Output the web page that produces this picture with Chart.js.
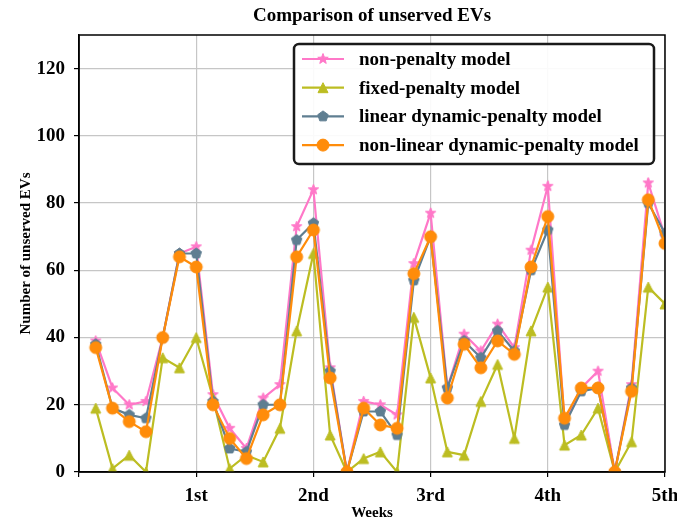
<!DOCTYPE html>
<html>
<head>
<meta charset="utf-8">
<title>Comparison of unserved EVs</title>
<script src="https://cdn.jsdelivr.net/npm/chart.js@4.4.1/dist/chart.umd.min.js"></script>
<style>
  html, body { margin: 0; padding: 0; background: #fff; }
  #wrap { width: 677px; height: 521px; position: relative; }
</style>
</head>
<body>
<div id="wrap"><canvas id="evChart"></canvas></div>
<script>
// Days of the horizon (7 per week), x position = day / 7
const days = [1, 2, 3, 4, 5, 6, 7, 8, 9, 10, 11, 12, 13, 14, 15, 16, 17, 18,
              19, 20, 21, 22, 23, 24, 25, 26, 27, 28, 29, 30, 31, 32, 33, 34, 35];
const weekLabels = ['', '1st', '2nd', '3rd', '4th', '5th'];
const weekTicks = [0, 1, 2, 3, 4, 5];
const yTicks = [0, 20, 40, 60, 80, 100, 120];

const nonPenalty = [39, 25, 20, 21, 40, 65, 67, 23, 13, 7, 22, 26, 73, 84, 31, 0, 21, 20,
                    17, 62, 77, 25, 41, 36, 44, 37, 66, 85, 15, 25, 30, 0, 26, 86, 70];
const fixedPenalty = [19, 1, 5, 0, 34, 31, 40, 22, 1, 5, 3, 13, 42, 65, 11, 0, 4, 6,
                      0, 46, 28, 6, 5, 21, 32, 10, 42, 55, 8, 11, 19, 0, 9, 55, 50];
const linearDynamic = [38, 19, 17, 16, 40, 65, 65, 21, 7, 6, 20, 20, 69, 74, 30, 0, 18, 18,
                       11, 57, 70, 25, 39, 34, 42, 36, 60, 72, 14, 24, 25, 0, 25, 80, 71];
const nonLinearDynamic = [37, 19, 15, 12, 40, 64, 61, 20, 10, 4, 17, 20, 64, 72, 28, 0, 19, 14,
                          13, 59, 70, 22, 38, 31, 39, 35, 61, 76, 16, 25, 25, 0, 24, 81, 68];

const FONT = "'Liberation Serif', 'Times New Roman', serif";

function drawMarker(ctx, shape, x, y, r, color) {
    ctx.save();
    ctx.fillStyle = color;
    ctx.strokeStyle = color;
    ctx.lineWidth = 1;
    ctx.beginPath();
    if (shape === 'circle') {
        ctx.arc(x, y, r, 0, Math.PI * 2);
    } else if (shape === 'triangle') {
        ctx.moveTo(x, y - r);
        ctx.lineTo(x - r, y + r);
        ctx.lineTo(x + r, y + r);
    } else if (shape === 'pentagon') {
        for (let i = 0; i < 5; i++) {
            const a = -Math.PI / 2 + i * 2 * Math.PI / 5;
            ctx.lineTo(x + r * Math.cos(a), y + r * Math.sin(a));
        }
    } else if (shape === 'star') {
        for (let i = 0; i < 10; i++) {
            const a = -Math.PI / 2 + i * Math.PI / 5;
            const rr = i % 2 ? r * 0.42 : r;
            ctx.lineTo(x + rr * Math.cos(a), y + rr * Math.sin(a));
        }
    }
    ctx.closePath();
    ctx.fill();
    ctx.stroke();
    ctx.restore();
}

function markerCanvas(shape, r, color) {
    const c = document.createElement('canvas');
    const s = Math.ceil(r * 2 + 4);
    c.width = s;
    c.height = s;
    drawMarker(c.getContext('2d'), shape, s / 2, s / 2, r, color);
    return c;
}

const series = [
    { label: 'non-penalty model', data: nonPenalty, color: '#ff78c8', shape: 'star', r: 5.5, order: 4 },
    { label: 'fixed-penalty model', data: fixedPenalty, color: '#bcbd22', shape: 'triangle', r: 5, order: 3 },
    { label: 'linear dynamic-penalty model', data: linearDynamic, color: '#5f7e91', shape: 'pentagon', r: 5.5, order: 2 },
    { label: 'non-linear dynamic-penalty model', data: nonLinearDynamic, color: '#ff8c0a', shape: 'circle', r: 6, order: 1 }
];

// Clip lines and markers to the plot area, like the axes box does
const clipPlugin = {
    id: 'clipToArea',
    beforeDatasetsDraw(chart) {
        const a = chart.chartArea;
        chart.ctx.save();
        chart.ctx.beginPath();
        chart.ctx.rect(a.left, a.top, a.right - a.left, a.bottom - a.top);
        chart.ctx.clip();
    },
    afterDatasetsDraw(chart) {
        chart.ctx.restore();
    }
};

// Title, plot frame and boxed legend drawn on top
const framePlugin = {
    id: 'frameAndLegend',
    afterDraw(chart) {
        const { ctx, chartArea: a } = chart;
        ctx.save();

        ctx.strokeStyle = '#000';
        ctx.lineWidth = 1.5;
        ctx.strokeRect(a.left, a.top, a.right - a.left, a.bottom - a.top);

        ctx.fillStyle = '#000';
        ctx.font = 'bold 19px ' + FONT;
        ctx.textAlign = 'center';
        ctx.textBaseline = 'middle';
        ctx.fillText('Comparison of unserved EVs', (a.left + a.right) / 2, 16);

        // legend box
        const w = 360, h = 120;
        const x0 = a.right - 11 - w, y0 = a.top + 9;
        ctx.beginPath();
        ctx.roundRect(x0, y0, w, h, 5);
        ctx.fillStyle = 'rgba(255,255,255,0.9)';
        ctx.fill();
        ctx.lineWidth = 2.5;
        ctx.strokeStyle = '#1a1a1a';
        ctx.stroke();

        series.forEach((s, i) => {
            const y = y0 + 15 + i * 28.7;
            ctx.beginPath();
            ctx.strokeStyle = s.color;
            ctx.lineWidth = 2.2;
            ctx.moveTo(x0 + 8, y);
            ctx.lineTo(x0 + 50, y);
            ctx.stroke();
            drawMarker(ctx, s.shape, x0 + 29, y, s.r, s.color);
            ctx.fillStyle = '#000';
            ctx.font = 'bold 19px ' + FONT;
            ctx.textAlign = 'left';
            ctx.textBaseline = 'middle';
            ctx.fillText(s.label, x0 + 65, y + 1);
        });

        ctx.restore();
    }
};

const tickFont = { family: FONT, size: 19, weight: 'bold' };
const gridOpts = { color: '#c6c6c6', lineWidth: 1.2, tickColor: '#000', tickLength: 5 };

new Chart(document.getElementById('evChart'), {
    type: 'line',
    data: {
        datasets: series.map(s => ({
            label: s.label,
            data: days.map((d, i) => ({ x: d / 7, y: s.data[i] })),
            borderColor: s.color,
            backgroundColor: s.color,
            borderWidth: 2.2,
            pointStyle: markerCanvas(s.shape, s.r, s.color),
            pointRadius: s.r,
            pointHoverRadius: s.r,
            tension: 0,
            order: s.order
        }))
    },
    options: {
        responsive: true,
        maintainAspectRatio: false,
        animation: false,
        events: [],
        layout: { padding: { top: 35, right: 12, left: 0, bottom: 0 } },
        plugins: {
            legend: { display: false },
            tooltip: { enabled: false },
            title: { display: false }
        },
        scales: {
            x: {
                type: 'linear',
                min: 0,
                max: 5,
                afterBuildTicks: scale => { scale.ticks = weekTicks.map(v => ({ value: v })); },
                afterFit: scale => { scale.height = 49; scale.paddingLeft = 0; scale.paddingRight = 0; },
                ticks: {
                    callback: v => weekLabels[v] ?? '',
                    font: tickFont,
                    color: '#000',
                    padding: 8,
                    maxRotation: 0,
                    autoSkip: false
                },
                grid: gridOpts,
                border: { color: '#000', width: 1.5 },
                title: {
                    display: true,
                    text: 'Weeks',
                    color: '#000',
                    font: { family: FONT, size: 15, weight: 'bold' },
                    padding: { top: 0, bottom: -1 }
                }
            },
            y: {
                min: 0,
                max: 130,
                afterBuildTicks: scale => { scale.ticks = yTicks.map(v => ({ value: v })); },
                afterFit: scale => { scale.width = 79; scale.paddingTop = 0; scale.paddingBottom = 0; },
                ticks: { font: tickFont, color: '#000', padding: 9 },
                grid: gridOpts,
                border: { color: '#000', width: 1.5 },
                title: {
                    display: true,
                    text: 'Number of unserved EVs',
                    color: '#000',
                    font: { family: FONT, size: 15, weight: 'bold' },
                    padding: { top: 17, bottom: 0 }
                }
            }
        }
    },
    plugins: [clipPlugin, framePlugin]
});
</script>
</body>
</html>
